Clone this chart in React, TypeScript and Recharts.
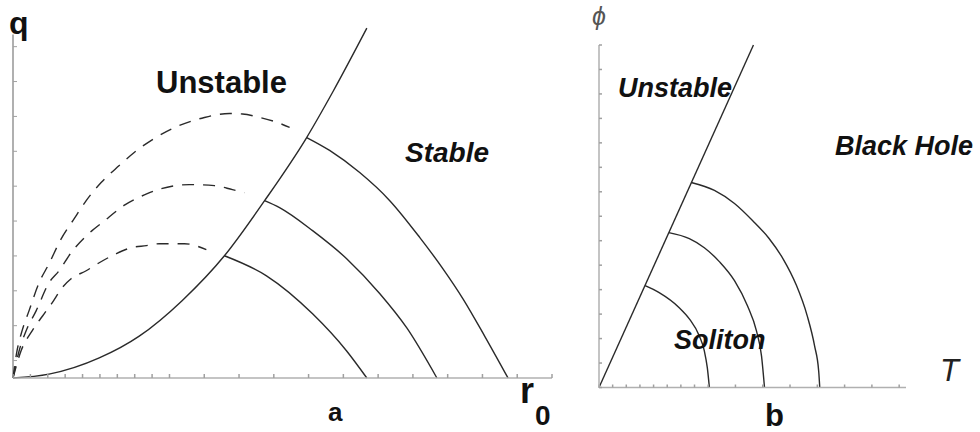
import { LineChart, Line, XAxis, YAxis, ReferenceLine } from 'recharts'

// panel a: q vs r0 (tick units)
const boundaryA = [
  { x: 0, y: 0 }, { x: 2.07, y: 0.22 }, { x: 4.96, y: 1.15 }, { x: 7.26, y: 2.4 },
  { x: 9.74, y: 4.45 }, { x: 12.16, y: 7.01 }, { x: 14.47, y: 10.17 }, { x: 16.89, y: 13.79 },
  { x: 18.39, y: 16.4 }, { x: 20.35, y: 20.06 },
]
const stableA1 = [
  { x: 12.16, y: 7.01 }, { x: 14.58, y: 5.86 }, { x: 17.23, y: 3.68 }, { x: 19.19, y: 1.55 }, { x: 20.35, y: 0 },
]
const stableA2 = [
  { x: 14.47, y: 10.17 }, { x: 15.33, y: 9.77 }, { x: 17.23, y: 8.45 }, { x: 19.19, y: 6.84 },
  { x: 21.1, y: 4.83 }, { x: 22.65, y: 2.87 }, { x: 24.38, y: 0 },
]
const stableA3 = [
  { x: 16.89, y: 13.79 }, { x: 18.21, y: 13.05 }, { x: 19.94, y: 11.78 }, { x: 21.67, y: 10.17 },
  { x: 23.4, y: 8.05 }, { x: 24.73, y: 6.26 }, { x: 25.88, y: 4.54 }, { x: 27.15, y: 2.36 }, { x: 28.47, y: 0 },
]
const unstableA1 = [
  { x: 0, y: 0 }, { x: 0.46, y: 1.55 }, { x: 1.1, y: 2.7 }, { x: 1.79, y: 3.68 }, { x: 2.25, y: 4.31 },
  { x: 2.82, y: 5.17 }, { x: 3.34, y: 5.69 }, { x: 4.21, y: 6.15 }, { x: 4.96, y: 6.61 }, { x: 5.94, y: 7.13 },
  { x: 6.8, y: 7.47 }, { x: 7.67, y: 7.59 }, { x: 8.41, y: 7.7 }, { x: 9.86, y: 7.7 }, { x: 11.12, y: 7.36 },
]
const unstableA2 = [
  { x: 0, y: 0 }, { x: 0.35, y: 1.55 }, { x: 0.75, y: 2.7 }, { x: 1.33, y: 3.85 }, { x: 2.07, y: 5.46 },
  { x: 2.65, y: 6.15 }, { x: 3.34, y: 7.18 }, { x: 4.55, y: 8.45 }, { x: 5.13, y: 8.91 }, { x: 6.46, y: 9.94 },
  { x: 7.72, y: 10.57 }, { x: 8.53, y: 10.86 }, { x: 10.14, y: 11.09 }, { x: 11.59, y: 11.03 },
  { x: 12.62, y: 10.8 }, { x: 13.31, y: 10.63 },
]
const unstableA3 = [
  { x: 0, y: 0 }, { x: 0.23, y: 1.55 }, { x: 0.52, y: 2.7 }, { x: 0.92, y: 3.85 }, { x: 1.5, y: 5.46 },
  { x: 2.07, y: 6.55 }, { x: 2.71, y: 7.87 }, { x: 3.52, y: 9.14 }, { x: 4.21, y: 10.17 }, { x: 5.07, y: 11.21 },
  { x: 6.11, y: 12.18 }, { x: 6.97, y: 12.93 }, { x: 8.13, y: 13.74 }, { x: 9.57, y: 14.48 },
  { x: 11.01, y: 14.94 }, { x: 12.45, y: 15.17 }, { x: 13.2, y: 15.14 }, { x: 14.18, y: 14.94 },
  { x: 15.04, y: 14.71 }, { x: 15.91, y: 14.37 },
]
const ticksAX = Array.from({ length: 32 }, (_, i) => i)
const ticksAY = Array.from({ length: 20 }, (_, i) => i)

// panel b: phi vs T
const boundaryB = [{ x: 0, y: 0 }, { x: 11.32, y: 28 }]
const solitonB1 = [
  { x: 3.38, y: 8.32 }, { x: 4.41, y: 7.75 }, { x: 5.88, y: 6.52 }, { x: 6.62, y: 5.61 },
  { x: 7.35, y: 4.22 }, { x: 7.72, y: 2.99 }, { x: 7.94, y: 1.6 }, { x: 8.09, y: 0 },
]
const solitonB2 = [
  { x: 5.12, y: 12.66 }, { x: 6.62, y: 12.17 }, { x: 7.72, y: 11.43 }, { x: 8.82, y: 10.29 },
  { x: 9.93, y: 8.73 }, { x: 10.88, y: 6.68 }, { x: 11.54, y: 4.63 }, { x: 11.91, y: 2.58 }, { x: 12.13, y: 0 },
]
const solitonB3 = [
  { x: 6.76, y: 16.76 }, { x: 8.46, y: 16.11 }, { x: 9.93, y: 15.04 }, { x: 11.25, y: 13.65 },
  { x: 12.45, y: 12.2 }, { x: 13.5, y: 10.5 }, { x: 14.45, y: 8.4 }, { x: 15.25, y: 5.9 },
  { x: 15.8, y: 3.4 }, { x: 16.1, y: 1.35 }, { x: 16.18, y: 0 },
]
const ticksBX = Array.from({ length: 23 }, (_, i) => i)
const ticksBY = Array.from({ length: 29 }, (_, i) => i)

const INK = '#2a2a2a'
const AXIS = '#b0b0b0'
const FONT = '"Liberation Sans", Arial, sans-serif'

// tick marks only, no labels
const NoLabel = () => <g />

function PanelA() {
  return (
    <LineChart width={600} height={432} margin={{ top: 24, left: 13, right: 48, bottom: 54 }}>
      <XAxis type="number" dataKey="x" domain={[0, 31]} ticks={ticksAX} height={1} mirror
        tick={NoLabel} tickSize={4} tickLine={{ stroke: '#a0a0a0' }} stroke={AXIS} strokeWidth={1.5} />
      <YAxis type="number" dataKey="y" domain={[0, 20.3]} ticks={ticksAY} width={1} mirror
        tick={NoLabel} tickSize={4} tickLine={{ stroke: '#a0a0a0' }} axisLine={false} stroke={AXIS} />
      <ReferenceLine segment={[{ x: 0, y: 0 }, { x: 0, y: 19.7 }]} stroke={AXIS} strokeWidth={2} />
      {[stableA1, stableA2, stableA3].map((d, i) => (
        <Line key={`s${i}`} data={d} dataKey="y" type="monotone" stroke={INK} strokeWidth={1.4}
          dot={false} isAnimationActive={false} />
      ))}
      {[unstableA1, unstableA2, unstableA3].map((d, i) => (
        <Line key={`u${i}`} data={d} dataKey="y" type="monotone" stroke={INK} strokeWidth={1.4}
          strokeDasharray="12 9" dot={false} isAnimationActive={false} />
      ))}
      <Line data={boundaryA} dataKey="y" type="monotone" stroke={INK} strokeWidth={1.4}
        dot={false} isAnimationActive={false} />
    </LineChart>
  )
}

function PanelB() {
  return (
    <LineChart width={420} height={432} margin={{ top: 45, left: 39, right: 74, bottom: 44.5 }}>
      <XAxis type="number" dataKey="x" domain={[0, 22.5]} ticks={ticksBX} height={1} mirror
        tick={NoLabel} tickSize={3} tickLine={{ stroke: '#a0a0a0' }} stroke={AXIS} strokeWidth={1.5} />
      <YAxis type="number" dataKey="y" domain={[0, 28]} ticks={ticksBY} width={1} mirror
        tick={NoLabel} tickSize={3} tickLine={{ stroke: '#a0a0a0' }} stroke={AXIS} strokeWidth={1.5} />
      {[solitonB1, solitonB2, solitonB3].map((d, i) => (
        <Line key={`b${i}`} data={d} dataKey="y" type="monotone" stroke={INK} strokeWidth={1.4}
          dot={false} isAnimationActive={false} />
      ))}
      <Line data={boundaryB} dataKey="y" type="linear" stroke={INK} strokeWidth={1.4}
        dot={false} isAnimationActive={false} />
    </LineChart>
  )
}

export default function App() {
  return (
    <div style={{ position: 'absolute', left: 0, top: 0, width: 980, height: 432, background: '#fff' }}>
      <div style={{ position: 'absolute', left: 0, top: 0 }}><PanelA /></div>
      <div style={{ position: 'absolute', left: 560, top: 0 }}><PanelB /></div>
      <svg width={980} height={432} style={{ position: 'absolute', left: 0, top: 0, pointerEvents: 'none' }}
        fontFamily={FONT} fill="#111">
        <text x={9} y={34} fontSize={32} fontWeight="bold">q</text>
        <text x={156} y={93} fontSize={31} fontWeight="bold">Unstable</text>
        <text x={405} y={162} fontSize={28} fontWeight="bold" fontStyle="italic">Stable</text>
        <text x={520} y={403} fontSize={36} fontWeight="bold">r</text>
        <text x={535} y={425} fontSize={28} fontWeight="bold">0</text>
        <text x={328} y={421} fontSize={26} fontWeight="bold">a</text>
        <text x={592} y={25} fontSize={25} fontStyle="italic" fill="#555">ϕ</text>
        <text x={618} y={97} fontSize={27} fontWeight="bold" fontStyle="italic">Unstable</text>
        <text x={835} y={155} fontSize={27} fontWeight="bold" fontStyle="italic">Black Hole</text>
        <text x={674} y={349} fontSize={27} fontWeight="bold" fontStyle="italic">Soliton</text>
        <text x={940} y={381} fontSize={31} fontStyle="italic" fill="#222">T</text>
        <text x={765} y={426} fontSize={31} fontWeight="bold">b</text>
      </svg>
    </div>
  )
}
